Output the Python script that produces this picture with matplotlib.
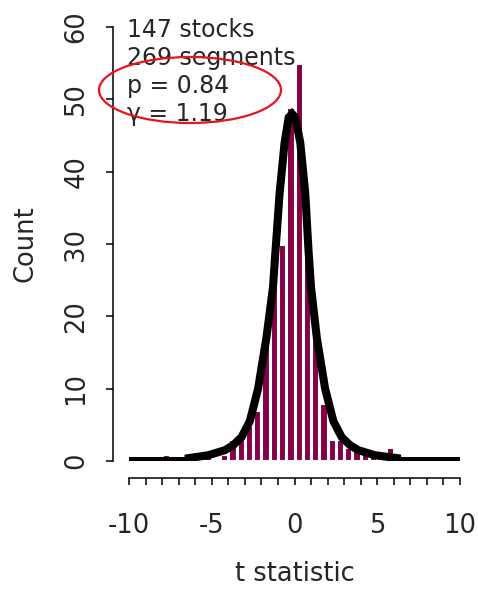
import numpy as np
import matplotlib
matplotlib.use("Agg")
import matplotlib.pyplot as plt
from matplotlib.patches import Ellipse

plt.rcParams["axes.unicode_minus"] = False

# histogram of t statistics (bin width 0.5)
bin_left = [-8.0, -5.5, -4.5, -4.0, -3.5, -3.0, -2.5, -2.0, -1.5, -1.0,
            -0.5, 0.0, 0.5, 1.0, 1.5, 2.0, 2.5, 3.0, 3.5, 4.0, 4.5, 5.0, 5.5]
counts = [1, 1, 1, 3, 4, 5, 7, 16, 25, 30,
          49, 55, 30, 19, 8, 3, 3, 2, 2, 1, 1, 1, 2]
bin_width = 0.5

# fitted curve
curve_t = [-10, -6.4, -6.4, -5.2, -4.2, -3.7, -3.2, -2.7, -2.2, -1.7, -1.3,
           -1.15, -0.9, -0.6, -0.35, -0.15, 0.05, 0.35, 0.65, 0.85, 1.0,
           1.35, 1.85, 2.35, 2.85, 3.35, 3.85, 4.85, 6.2, 6.2, 10]
curve_y = [0, 0, 0.4, 0.8, 1.5, 2.2, 3.3, 5.5, 10, 17, 24,
           29, 37, 44, 47.5, 48, 47.5, 44, 37, 29, 24,
           17, 10, 5.5, 3.3, 2.2, 1.5, 0.8, 0.4, 0, 0]

info = ["147 stocks", "269 segments", "p = 0.84", "\u03b3 = 1.19"]
xticks_major = [-10, -5, 0, 5, 10]
yticks = [0, 10, 20, 30, 40, 50, 60]

W, H = 478, 589
fig = plt.figure(figsize=(W / 100, H / 100), dpi=100)
ax = fig.add_axes([129 / W, 128 / H, 331 / W, 434 / H])

txt = "#262626"
ax.bar(bin_left, counts, width=bin_width, align="edge", color="#850045",
       edgecolor="white", linewidth=2.2, zorder=2)
ax.plot(curve_t, curve_y, color="black", lw=5.8, zorder=3, solid_joinstyle="miter")

ax.set_xlim(-10, 10)
ax.set_ylim(0, 60)
for s in ["top", "right"]:
    ax.spines[s].set_visible(False)
ax.spines["left"].set_position(("outward", 11.5))
ax.spines["bottom"].set_position(("outward", 12.5))
ax.spines["left"].set_bounds(0, 60)
ax.spines["bottom"].set_bounds(-10, 10)
for s in ["left", "bottom"]:
    ax.spines[s].set_linewidth(1.1)

ax.set_xticks(xticks_major)
ax.set_xticks(np.arange(-10, 11, 1), minor=True)
ax.set_yticks(yticks)
ax.tick_params(axis="both", which="both", length=5, width=1.1, colors="black",
               labelcolor=txt, labelsize=18.5)
ax.tick_params(axis="x", which="major", pad=20)
ax.tick_params(axis="y", pad=12)
for lab in ax.get_yticklabels():
    lab.set_rotation(90)
    lab.set_va("center")

ax.set_xlabel("t statistic", fontsize=18.5, color=txt, labelpad=16)
ax.set_ylabel("Count", fontsize=18.5, color=txt, labelpad=18)

baselines = [37, 65, 93, 121]
for line, b in zip(info, baselines):
    fig.text(127 / W, 1 - b / H, line, fontsize=17, color=txt, va="baseline", ha="left")

fig.patches.append(Ellipse((190 / W, 1 - 90 / H), 182 / W, 66 / H,
                           transform=fig.transFigure, fill=False,
                           edgecolor="#e8141c", lw=1.6, zorder=5))

fig.savefig("out.png", dpi=100)
